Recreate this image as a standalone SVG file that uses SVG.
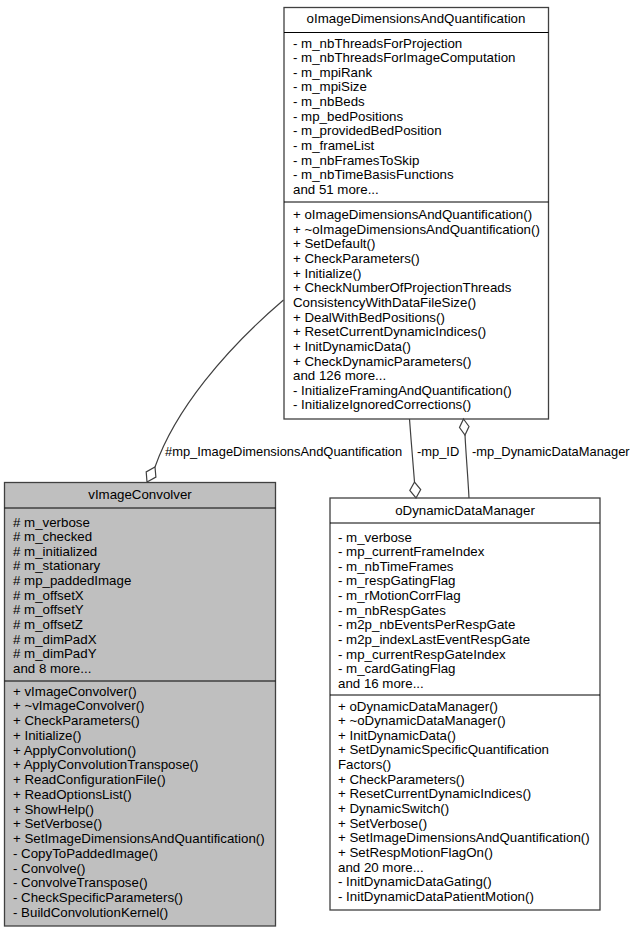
<svg xmlns="http://www.w3.org/2000/svg" width="637" height="932" viewBox="0 0 637 932">
<style>
text{font-family:"Liberation Sans",Arial,Helvetica,sans-serif;font-size:13.3px;fill:#000}
.t{text-anchor:middle}
.lbl{font-size:12.9px}
.box{stroke:#404040;stroke-width:1.3}
.sep{stroke:#000;stroke-width:1}
.edge{fill:none;stroke:#404040;stroke-width:1.2}
.dia{fill:#fff;stroke:#404040;stroke-width:1.2}
</style>
<rect width="637" height="932" fill="#fff"/>
<g id="oImageDimensionsAndQuantification">
<rect class="box" x="284" y="7.5" width="264.5" height="411.5" fill="#fff"/>
<line class="sep" x1="284" y1="32.5" x2="548.5" y2="32.5"/>
<line class="sep" x1="284" y1="202" x2="548.5" y2="202"/>
<text class="t" x="416" y="23">oImageDimensionsAndQuantification</text>
<text x="293" y="47.5">- m_nbThreadsForProjection</text>
<text x="293" y="62.15">- m_nbThreadsForImageComputation</text>
<text x="293" y="76.8">- m_mpiRank</text>
<text x="293" y="91.45">- m_mpiSize</text>
<text x="293" y="106.1">- m_nbBeds</text>
<text x="293" y="120.75">- mp_bedPositions</text>
<text x="293" y="135.4">- m_providedBedPosition</text>
<text x="293" y="150.05">- m_frameList</text>
<text x="293" y="164.7">- m_nbFramesToSkip</text>
<text x="293" y="179.35">- m_nbTimeBasisFunctions</text>
<text x="293" y="194">and 51 more...</text>
<text x="293" y="219">+ oImageDimensionsAndQuantification()</text>
<text x="293" y="233.65">+ ~oImageDimensionsAndQuantification()</text>
<text x="293" y="248.3">+ SetDefault()</text>
<text x="293" y="262.95">+ CheckParameters()</text>
<text x="293" y="277.6">+ Initialize()</text>
<text x="293" y="292.25">+ CheckNumberOfProjectionThreads</text>
<text x="293" y="306.9">ConsistencyWithDataFileSize()</text>
<text x="293" y="321.55">+ DealWithBedPositions()</text>
<text x="293" y="336.2">+ ResetCurrentDynamicIndices()</text>
<text x="293" y="350.85">+ InitDynamicData()</text>
<text x="293" y="365.5">+ CheckDynamicParameters()</text>
<text x="293" y="380.15">and 126 more...</text>
<text x="293" y="394.8">- InitializeFramingAndQuantification()</text>
<text x="293" y="409.45">- InitializeIgnoredCorrections()</text>
</g>
<g id="vImageConvolver">
<rect class="box" x="4.5" y="482.5" width="271" height="443.5" fill="#bfbfbf"/>
<line class="sep" x1="4.5" y1="508" x2="275.5" y2="508"/>
<line class="sep" x1="4.5" y1="681" x2="275.5" y2="681"/>
<text class="t" x="140" y="498.5">vImageConvolver</text>
<text x="13" y="526.5"># m_verbose</text>
<text x="13" y="541.15"># m_checked</text>
<text x="13" y="555.8"># m_initialized</text>
<text x="13" y="570.45"># m_stationary</text>
<text x="13" y="585.1"># mp_paddedImage</text>
<text x="13" y="599.75"># m_offsetX</text>
<text x="13" y="614.4"># m_offsetY</text>
<text x="13" y="629.05"># m_offsetZ</text>
<text x="13" y="643.7"># m_dimPadX</text>
<text x="13" y="658.35"># m_dimPadY</text>
<text x="13" y="673">and 8 more...</text>
<text x="13" y="695.5">+ vImageConvolver()</text>
<text x="13" y="710.25">+ ~vImageConvolver()</text>
<text x="13" y="725">+ CheckParameters()</text>
<text x="13" y="739.75">+ Initialize()</text>
<text x="13" y="754.5">+ ApplyConvolution()</text>
<text x="13" y="769.25">+ ApplyConvolutionTranspose()</text>
<text x="13" y="784">+ ReadConfigurationFile()</text>
<text x="13" y="798.75">+ ReadOptionsList()</text>
<text x="13" y="813.5">+ ShowHelp()</text>
<text x="13" y="828.25">+ SetVerbose()</text>
<text x="13" y="843">+ SetImageDimensionsAndQuantification()</text>
<text x="13" y="857.75">- CopyToPaddedImage()</text>
<text x="13" y="872.5">- Convolve()</text>
<text x="13" y="887.25">- ConvolveTranspose()</text>
<text x="13" y="902">- CheckSpecificParameters()</text>
<text x="13" y="916.75">- BuildConvolutionKernel()</text>
</g>
<g id="oDynamicDataManager">
<rect class="box" x="330" y="498" width="270" height="412" fill="#fff"/>
<line class="sep" x1="330" y1="523" x2="600" y2="523"/>
<line class="sep" x1="330" y1="695" x2="600" y2="695"/>
<text class="t" x="465" y="514.5">oDynamicDataManager</text>
<text x="338" y="541.5">- m_verbose</text>
<text x="338" y="556.15">- mp_currentFrameIndex</text>
<text x="338" y="570.8">- m_nbTimeFrames</text>
<text x="338" y="585.45">- m_respGatingFlag</text>
<text x="338" y="600.1">- m_rMotionCorrFlag</text>
<text x="338" y="614.75">- m_nbRespGates</text>
<text x="338" y="629.4">- m2p_nbEventsPerRespGate</text>
<text x="338" y="644.05">- m2p_indexLastEventRespGate</text>
<text x="338" y="658.7">- mp_currentRespGateIndex</text>
<text x="338" y="673.35">- m_cardGatingFlag</text>
<text x="338" y="688">and 16 more...</text>
<text x="338" y="710.5">+ oDynamicDataManager()</text>
<text x="338" y="725.15">+ ~oDynamicDataManager()</text>
<text x="338" y="739.8">+ InitDynamicData()</text>
<text x="338" y="754.45">+ SetDynamicSpecificQuantification</text>
<text x="338" y="769.1">Factors()</text>
<text x="338" y="783.75">+ CheckParameters()</text>
<text x="338" y="798.4">+ ResetCurrentDynamicIndices()</text>
<text x="338" y="813.05">+ DynamicSwitch()</text>
<text x="338" y="827.7">+ SetVerbose()</text>
<text x="338" y="842.35">+ SetImageDimensionsAndQuantification()</text>
<text x="338" y="857">+ SetRespMotionFlagOn()</text>
<text x="338" y="871.65">and 20 more...</text>
<text x="338" y="886.3">- InitDynamicDataGating()</text>
<text x="338" y="900.95">- InitDynamicDataPatientMotion()</text>
</g>
<g id="connectors">
<path class="edge" d="M283.5,300 C225,350 175,410 155,467"/>
<polygon class="dia" points="147,482 155.9,477.1 155,467 146.2,471.9"/>
<text class="lbl" x="165" y="456">#mp_ImageDimensionsAndQuantification</text>
<path class="edge" d="M409.5,419 C411,440 413,462 414.5,482"/>
<polygon class="dia" points="416,498 420.7,489.5 414.5,482 409.8,490.5"/>
<text class="lbl" x="417" y="456">-mp_ID</text>
<path class="edge" d="M465,435 C466,455 468,478 469,498"/>
<polygon class="dia" points="463.5,419 469,426.5 465,435 459.5,427.5"/>
<text class="lbl" x="472" y="456">-mp_DynamicDataManager</text>
</g>
</svg>
